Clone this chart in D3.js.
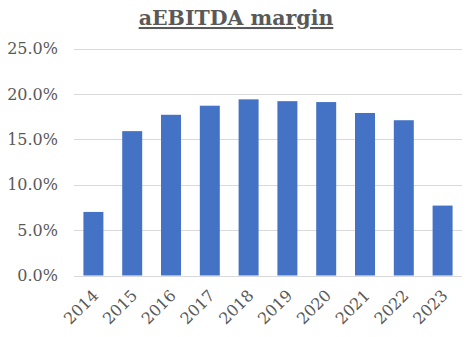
<!DOCTYPE html>
<html>
<head>
<meta charset="utf-8">
<script src="https://cdn.jsdelivr.net/npm/d3@7/dist/d3.min.js"></script>
<style>
  html, body { margin: 0; padding: 0; background: #fff; }
  svg { display: block; }
</style>
</head>
<body>
<svg id="chart" width="469" height="337"></svg>
<script>
// aEBITDA margin by year (%)
const years = ["2014","2015","2016","2017","2018","2019","2020","2021","2022","2023"];
const margins = [7.0, 15.9, 17.7, 18.7, 19.4, 19.2, 19.1, 17.9, 17.1, 7.7];
const yTicks = [0, 5, 10, 15, 20, 25];
const title = "aEBITDA margin";

const W = 469, H = 337;
const m = { left: 74, right: 7, top: 48.5, bottom: 61.5 };
const svg = d3.select("#chart");
const font = "'DejaVu Serif', Georgia, serif";
const textColor = "#595959";

const x = d3.scaleBand().domain(years).range([m.left, W - m.right]).paddingInner(0.485).paddingOuter(0.2425);
const y = d3.scaleLinear().domain([0, 25]).range([H - m.bottom, m.top]);

// gridlines
svg.append("g").selectAll("line").data(yTicks).join("line")
  .attr("x1", m.left).attr("x2", W - m.right)
  .attr("y1", d => Math.round(y(d)) + 0.5).attr("y2", d => Math.round(y(d)) + 0.5)
  .attr("stroke", "#d9d9d9").attr("stroke-width", 1);

// y axis labels
const yAxis = d3.axisLeft(y).tickValues(yTicks).tickSize(0).tickPadding(16)
  .tickFormat(d => d3.format(".1f")(d) + "%");
const gy = svg.append("g").attr("transform", `translate(${m.left},0)`).call(yAxis);
gy.select(".domain").remove();
gy.selectAll("text").attr("font-family", font).attr("font-size", 16).attr("fill", textColor);

// bars
svg.append("g").selectAll("rect").data(years).join("rect")
  .attr("x", d => x(d))
  .attr("width", x.bandwidth())
  .attr("y", (d, i) => y(margins[i]))
  .attr("height", (d, i) => y(0) - y(margins[i]))
  .attr("fill", "#4472C4");

// x axis labels, rotated
const xAxis = d3.axisBottom(x).tickSize(0).tickPadding(0);
const gx = svg.append("g").attr("transform", `translate(0,${y(0)})`).call(xAxis);
gx.select(".domain").remove();
gx.selectAll("text")
  .attr("font-family", font).attr("font-size", 16).attr("fill", textColor)
  .attr("text-anchor", "end")
  .attr("dy", null)
  .attr("transform", "translate(6,21) rotate(-45)");

// title
svg.append("text")
  .attr("x", 236).attr("y", 25)
  .attr("text-anchor", "middle")
  .attr("font-family", font).attr("font-weight", "bold").attr("font-size", 20.5)
  .attr("fill", textColor)
  .attr("text-decoration", "underline")
  .text(title);
</script>
</body>
</html>
